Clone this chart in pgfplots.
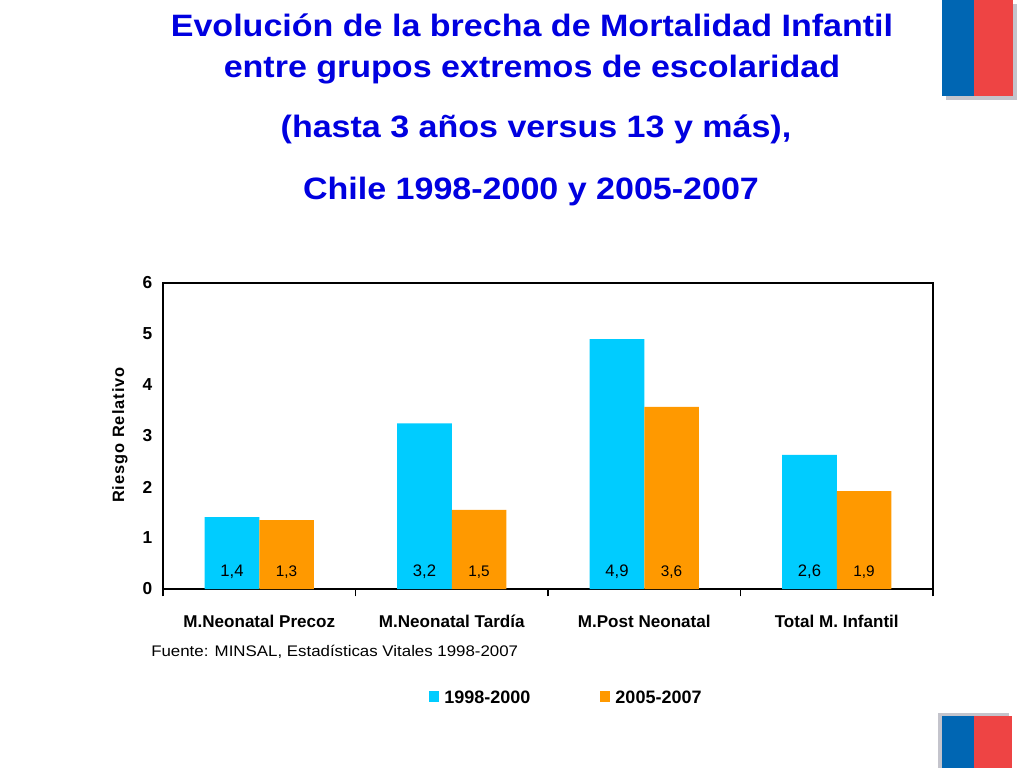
\documentclass[border=0pt]{standalone}
\usepackage{fontspec}
\setmainfont{Liberation Sans}
\newfontfamily\widefont[FakeStretch=1.1]{Liberation Sans}
\newfontfamily\spacedfont[LetterSpace=6]{Liberation Sans}
\usepackage{pgfplots}
\usepackage{pgfplotstable}
\pgfplotsset{compat=1.18}
\definecolor{cyanbar}{HTML}{00CCFF}
\definecolor{orangebar}{HTML}{FF9900}
\definecolor{titleblue}{HTML}{0000E0}
\definecolor{flagblue}{HTML}{0066B3}
\definecolor{flagred}{HTML}{EE4444}
\definecolor{shadowgrey}{HTML}{C4C4CC}

\pgfplotstableread{
x y
0 1.41
1 3.25
2 4.90
3 2.63
}\seriesA
\pgfplotstableread{
x y
0 1.35
1 1.55
2 3.57
3 1.92
}\seriesB
\pgfplotstableread{
x y lab
0 0.25 1,4
1 0.25 3,2
2 0.25 4,9
3 0.25 2,6
}\labelsA
\pgfplotstableread{
x y lab
0 0.25 1,3
1 0.25 1,5
2 0.25 3,6
3 0.25 1,9
}\labelsB

\begin{document}
\begin{tikzpicture}[x=0.75pt,y=0.75pt]
\fill[white] (0,0) rectangle (1024,768);
% flags
\fill[shadowgrey] (946,668) rectangle (1017,764);
\fill[flagblue] (942,672) rectangle (974,768);
\fill[flagred] (974,672) rectangle (1013,768);
\fill[shadowgrey] (938,0) rectangle (1009,55);
\fill[flagblue] (942,0) rectangle (974,52);
\fill[flagred] (974,0) rectangle (1012,52);
% title
\begin{scope}[every node/.style={anchor=base, inner sep=0pt, text=titleblue, font=\widefont\bfseries\fontsize{23.2}{27}\selectfont}]
\node at (532,731) {Evolución de la brecha de Mortalidad Infantil};
\node at (532,690) {entre grupos extremos de escolaridad};
\node at (536,630) {(hasta 3 años versus 13 y más),};
\node at (531,568) {Chile 1998-2000 y 2005-2007};
\end{scope}
\node[anchor=base west, inner sep=0pt, font=\widefont\fontsize{11.5}{13}\selectfont] at (151,112) {Fuente: MINSAL, Estadísticas Vitales 1998-2007};
\begin{axis}[
  at={(122.25pt,134.25pt)}, anchor=south west,
  scale only axis, width=577.5pt, height=229.5pt,
  ybar,
  xmin=-0.5, xmax=3.5, ymin=0, ymax=6,
  xtick={-0.5,0.5,1.5,2.5,3.5},
  xticklabels={},
  xtick pos=lower,
  xtick style={black, line width=1pt},
  major tick length=5.5pt,
  tick align=outside,
  extra x ticks={0,1,2,3},
  extra x tick labels={M.Neonatal Precoz, M.Neonatal Tardía, M.Post Neonatal, Total M. Infantil},
  extra x tick style={major tick length=0pt},
  ytick={0,1,2,3,4,5,6},
  ytick style={draw=none},
  /pgf/number format/assume math mode=true,
  xticklabel style={anchor=base, yshift=-29pt, font=\bfseries\fontsize{12.8}{15}\selectfont},
  yticklabel style={font=\bfseries\fontsize{13}{15}\selectfont, xshift=1pt},
  axis line style={black, line width=1pt},
  ylabel={Riesgo Relativo},
  every axis y label/.style={at={(axis description cs:-0.056,0.503)}, rotate=90, anchor=center, font=\spacedfont\bfseries\fontsize{12.3}{14}\selectfont},
  legend style={draw=none, fill=none, at={(0.524,-0.356)}, anchor=center, legend columns=2,
    /tikz/every even column/.append style={column sep=50pt},
    font=\bfseries\fontsize{13.5}{15}\selectfont, inner sep=0pt},
  legend image code/.code={\fill[#1] (0pt,-3.2pt) rectangle (7.5pt,5.3pt);},
  bar width=40.9pt,
  clip=false,
]
\addplot[fill=cyanbar, draw=none, bar shift=-20.45pt] table[x=x,y=y] {\seriesA};
\addlegendentry{\,1998-2000}
\addplot[fill=orangebar, draw=none, bar shift=20.45pt] table[x=x,y=y] {\seriesB};
\addlegendentry{\,2005-2007}
\addplot[draw=none, fill=none, bar shift=-20.45pt, forget plot,
  point meta=explicit symbolic, nodes near coords,
  every node near coord/.append style={anchor=base, font=\fontsize{12.5}{14}\selectfont, text=black}]
  table[x=x,y=y,meta=lab] {\labelsA};
\addplot[draw=none, fill=none, bar shift=20.45pt, forget plot,
  point meta=explicit symbolic, nodes near coords,
  every node near coord/.append style={anchor=base, font=\fontsize{11.5}{13}\selectfont, text=black}]
  table[x=x,y=y,meta=lab] {\labelsB};
\end{axis}
\end{tikzpicture}
\end{document}
